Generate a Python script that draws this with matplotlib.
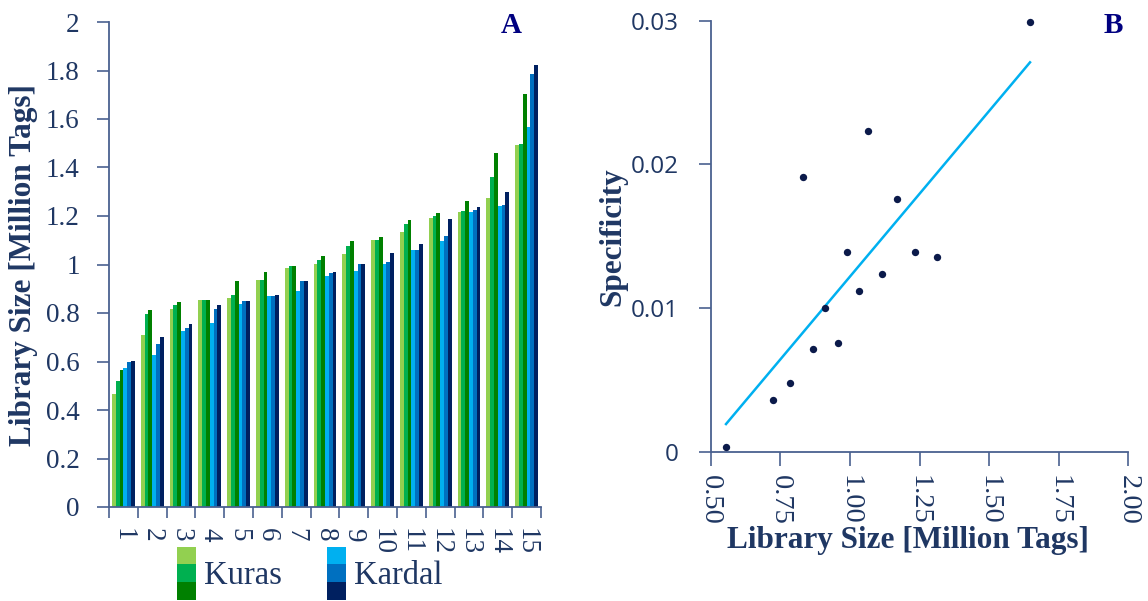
import numpy as np
import matplotlib
matplotlib.use("Agg")
import matplotlib.pyplot as plt
from matplotlib.patches import Rectangle
from matplotlib.ticker import FormatStrFormatter, FuncFormatter

# ---------------- data ----------------
samples = [str(i) for i in range(1, 16)]

kuras_1 = [0.468, 0.711, 0.815, 0.853, 0.863, 0.937, 0.986, 1.003, 1.045, 1.102, 1.133, 1.191, 1.215, 1.273, 1.493]
kuras_2 = [0.520, 0.797, 0.835, 0.853, 0.875, 0.937, 0.993, 1.018, 1.078, 1.102, 1.165, 1.202, 1.222, 1.359, 1.497]
kuras_3 = [0.564, 0.814, 0.846, 0.853, 0.931, 0.968, 0.993, 1.033, 1.095, 1.112, 1.184, 1.211, 1.260, 1.461, 1.702]
kardal_1 = [0.575, 0.626, 0.724, 0.758, 0.837, 0.870, 0.890, 0.951, 0.975, 1.003, 1.058, 1.096, 1.215, 1.241, 1.565]
kardal_2 = [0.597, 0.671, 0.737, 0.815, 0.848, 0.870, 0.930, 0.967, 1.001, 1.009, 1.058, 1.117, 1.226, 1.246, 1.787]
kardal_3 = [0.601, 0.701, 0.756, 0.834, 0.851, 0.875, 0.931, 0.968, 1.001, 1.048, 1.085, 1.188, 1.237, 1.298, 1.823]

lib_size = [0.555, 0.722, 0.785, 0.830, 0.869, 0.912, 0.957, 0.991, 1.034, 1.065, 1.114, 1.168, 1.233, 1.314, 1.647]
specificity = [0.00035, 0.0036, 0.0048, 0.0191, 0.00715, 0.0100, 0.00754, 0.0139, 0.0112, 0.0223,
               0.0124, 0.0176, 0.0139, 0.01355, 0.0299]

# ---------------- style ----------------
NAVY = "#1f3763"
SPINE = "#4a6190"
SERIF = ["Liberation Serif", "DejaVu Serif"]
SANS = ["Open Sans", "DejaVu Sans"]
LABEL_SIZE = 22.5

kuras_colors = ["#92d050", "#00b050", "#008000"]
kardal_colors = ["#00b0f0", "#0070c0", "#002060"]

plt.rcParams["font.family"] = SERIF

fig = plt.figure(figsize=(11.48, 6.01), dpi=100)

# ---------------- panel A: grouped bars ----------------
axA = fig.add_axes([109 / 1148, 1 - 507 / 601, 432 / 1148, 485 / 601])
series = [kuras_1, kuras_2, kuras_3, kardal_1, kardal_2, kardal_3]
colors = kuras_colors + kardal_colors
x = np.arange(len(samples))
bw = 0.132
for k, (vals, c) in enumerate(zip(series, colors)):
    axA.bar(x + (k - 2.5) * bw, vals, width=bw, color=c, linewidth=0)

axA.set_xlim(-0.5, len(samples) - 0.5)
axA.set_ylim(0, 2)
axA.set_yticks(np.arange(0, 2.01, 0.2))
axA.yaxis.set_major_formatter(FuncFormatter(lambda v, p: f"{v:g}"))
axA.set_xticks(x)
axA.set_xticklabels(samples, rotation=-90)
axA.set_xticks(np.arange(-0.5, len(samples), 1), minor=True)
axA.tick_params(axis="x", which="major", length=0, pad=15, labelsize=19.5, labelcolor=NAVY)
axA.tick_params(axis="x", which="minor", length=8, width=1.2, color=SPINE, direction="out")
axA.tick_params(axis="y", length=9, width=1.2, color=SPINE, pad=12, labelsize=19.5, labelcolor=NAVY)
for s in ["top", "right"]:
    axA.spines[s].set_visible(False)
for s in ["left", "bottom"]:
    axA.spines[s].set_color(SPINE)
    axA.spines[s].set_linewidth(1.3)
axA.set_ylabel("Library Size [Million Tags]", fontsize=LABEL_SIZE, fontweight="bold", color=NAVY)
axA.yaxis.set_label_coords(-0.165, 0.5)
axA.text(0.93, 0.993, "A", transform=axA.transAxes, ha="center", va="center",
         fontsize=21, fontweight="bold", color="#000080")

# legend: three stacked swatches per library type
def swatches(x0, cols, label):
    h = 17.7 / 601
    w = 18.4 / 1148
    top = 1 - 546.7 / 601
    for i, c in enumerate(cols):
        fig.patches.append(Rectangle((x0, top - (i + 1) * h), w, h, transform=fig.transFigure,
                                     facecolor=c, edgecolor="none"))
    fig.text(x0 + w + 8 / 1148, 1 - 576 / 601, label, fontsize=23.5, color=NAVY,
             va="center", ha="left")

swatches(177.3 / 1148, kuras_colors, "Kuras")
swatches(327.3 / 1148, kardal_colors, "Kardal")

# ---------------- panel B: scatter with fitted line ----------------
axB = fig.add_axes([710.7 / 1148, 1 - 451.7 / 601, 417.6 / 1148, 431 / 601])
axB.scatter(lib_size, specificity, s=28, color="#0b1a4a", zorder=3, linewidths=0, clip_on=False)
coef = np.polyfit(lib_size, specificity, 1)
xs = np.array([min(lib_size), max(lib_size)])
axB.plot(xs, np.polyval(coef, xs), color="#00b0f0", linewidth=1.8, zorder=2)

axB.set_xlim(0.5, 2.0)
axB.set_ylim(0, 0.03)
axB.set_xticks(np.arange(0.5, 2.01, 0.25))
axB.xaxis.set_major_formatter(FormatStrFormatter("%.2f"))
axB.set_yticks([0, 0.01, 0.02, 0.03])
axB.set_yticklabels(["0", "0.01", "0.02", "0.03"], fontfamily=SANS)
for lbl in axB.get_xticklabels():
    lbl.set_rotation(-90)
axB.tick_params(axis="x", length=10, width=1.2, color=SPINE, pad=7, labelsize=20.5, labelcolor=NAVY)
axB.tick_params(axis="y", length=9, width=1.2, color=SPINE, pad=14, labelsize=17.5, labelcolor=NAVY)
for s in ["top", "right"]:
    axB.spines[s].set_visible(False)
for s in ["left", "bottom"]:
    axB.spines[s].set_color(SPINE)
    axB.spines[s].set_linewidth(1.3)
axB.set_xlabel("Library Size [Million Tags]", fontsize=LABEL_SIZE, fontweight="bold", color=NAVY)
axB.xaxis.set_label_coords(0.4725, -0.172)
axB.set_ylabel("Specificity", fontsize=LABEL_SIZE, fontweight="bold", color=NAVY)
axB.yaxis.set_label_coords(-0.2, 0.5)
axB.text(0.964, 0.99, "B", transform=axB.transAxes, ha="center", va="center",
         fontsize=21, fontweight="bold", color="#000080")

fig.savefig("out.png", dpi=100)
